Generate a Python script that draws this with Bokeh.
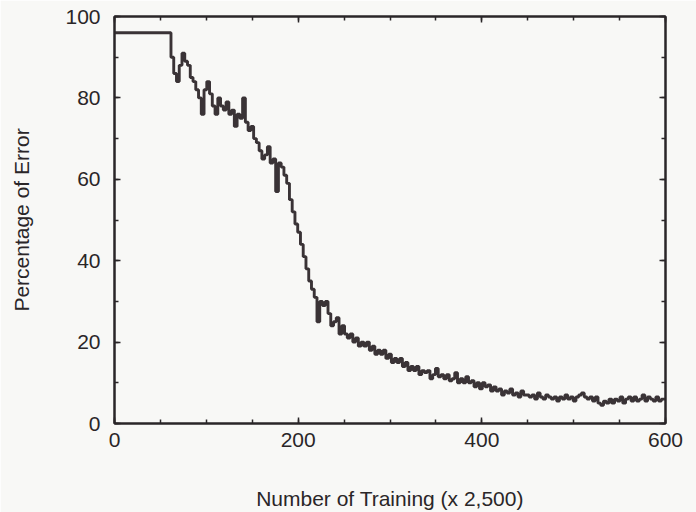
from bokeh.plotting import figure
from bokeh.models import (Range1d, LinearAxis, SingleIntervalTicker, ColumnDataSource,
                          CustomLabelingPolicy)
from bokeh.embed import file_html
from bokeh.resources import INLINE

# Sampling grid of the training count (x 2,500), every 3 units
training = list(range(0, 601, 3))

# Percentage of error
error_pct = [
    # 0 .. 57 (flat)
    96, 96, 96, 96, 96, 96, 96, 96, 96, 96,
    96, 96, 96, 96, 96, 96, 96, 96, 96, 96,
    # 60 .. 87
    96, 90, 86, 84, 88, 91, 89, 88, 85, 84,
    # 90 .. 117
    82, 80, 76, 82, 84, 81, 78, 76, 80, 78,
    # 120 .. 147
    77, 79, 76, 77, 73, 76, 75, 80, 74, 72,
    # 150 .. 177
    73, 70, 69, 67, 65, 66, 68, 64, 65, 57,
    # 180 .. 207
    64, 63, 61, 59, 55, 52, 49, 47, 44, 41,
    # 210 .. 237
    38, 35, 33, 31, 25, 30, 29, 30, 27, 24,
    # 240 .. 267
    25, 26, 22, 24, 22, 21, 22, 20, 21, 19,
    # 270 .. 297
    20, 19, 20, 18, 19, 17, 18, 17, 18, 16,
    # 300 .. 327
    17, 15, 16, 15, 16, 14, 15, 13, 14, 13,
    # 330 .. 357
    14, 12, 13, 12.5, 13, 11, 12, 13.5, 11.5, 12,
    # 360 .. 387
    11, 12, 10.5, 11, 12.5, 10, 11, 10, 11.5, 10,
    # 390 .. 417
    10.5, 9, 10, 8.5, 10, 9, 9.5, 8, 9, 8,
    # 420 .. 447
    8.5, 7, 8, 7.5, 8.5, 7, 7.5, 6.5, 8, 7,
    # 450 .. 477
    7, 6.5, 7, 6, 7.5, 6.5, 6, 7, 6.5, 6,
    # 480 .. 507
    6.5, 5.5, 6.5, 6, 7, 6, 6.5, 5.5, 6.5, 7,
    # 510 .. 537
    7.5, 6.5, 6, 6.5, 5.5, 6.5, 5, 4.5, 5.5, 5,
    # 540 .. 567
    6, 5, 6, 5.5, 6.5, 5, 6, 6.5, 5.5, 6.5,
    # 570 .. 597
    5.5, 6, 7, 5.5, 6.5, 6, 5.5, 6.5, 5.5, 6,
    # 600
    6,
]

x_title = "Number of Training (x 2,500)"
y_title = "Percentage of Error"

FONT = "Liberation Sans"
INK = "#2a2628"
BG = "#f8f8f6"

src = ColumnDataSource(data=dict(x=training, y=error_pct))

p = figure(width=696, height=512, output_backend="svg", toolbar_location=None,
           x_range=Range1d(0, 600), y_range=Range1d(0, 100),
           min_border_left=114, min_border_right=31,
           min_border_top=16, min_border_bottom=89,
           background_fill_color=BG, border_fill_color=BG)

p.xgrid.visible = False
p.ygrid.visible = False
p.outline_line_color = INK
p.outline_line_width = 2
p.outline_line_alpha = 1

p.step("x", "y", source=src, mode="center", line_width=2.9, line_color="#3a3336")

hide_all = CustomLabelingPolicy(code="""
    const ids = [...indices]
    for (const i of ids) indices.unset(i)
    return indices
""")

def style_axis(ax, show_labels=True):
    ax.axis_line_color = INK
    ax.axis_line_width = 2
    ax.major_tick_line_color = INK
    ax.minor_tick_line_color = INK
    ax.major_tick_line_width = 1.5
    ax.minor_tick_line_width = 1.5
    ax.major_tick_in = 6
    ax.major_tick_out = 0
    ax.minor_tick_in = 4
    ax.minor_tick_out = 0
    ax.major_label_text_font = FONT
    ax.major_label_text_color = INK
    ax.axis_label_text_font = FONT
    ax.axis_label_text_color = INK
    ax.axis_label_text_font_style = "normal"
    if not show_labels:
        ax.major_label_text_font_size = "1px"
        ax.major_label_standoff = 0
        ax.major_label_policy = hide_all

xa = p.xaxis[0]
xa.ticker = SingleIntervalTicker(interval=200, num_minor_ticks=4)
style_axis(xa)
xa.major_label_text_font_size = "21px"
xa.major_label_standoff = 9
xa.axis_label = x_title
xa.axis_label_text_font_size = "21px"
xa.axis_label_standoff = 37

ya = p.yaxis[0]
ya.ticker = SingleIntervalTicker(interval=20, num_minor_ticks=2)
style_axis(ya)
ya.major_label_text_font_size = "21px"
ya.major_label_standoff = 14
ya.axis_label = y_title
ya.axis_label_text_font_size = "21px"
ya.axis_label_standoff = 29

top = LinearAxis(ticker=SingleIntervalTicker(interval=200, num_minor_ticks=4))
style_axis(top, show_labels=False)
p.add_layout(top, "above")

right = LinearAxis(ticker=SingleIntervalTicker(interval=20, num_minor_ticks=2))
style_axis(right, show_labels=False)
p.add_layout(right, "right")

open("out.html", "w").write(file_html(p, INLINE))
